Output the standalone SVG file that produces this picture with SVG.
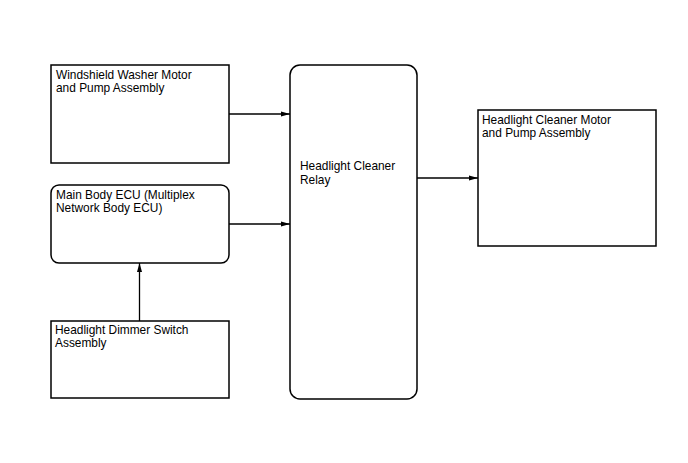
<svg xmlns="http://www.w3.org/2000/svg" width="688" height="463" viewBox="0 0 688 463">
<style>
.box{fill:#fff;stroke:#000;stroke-width:1.5}
.t{font-family:"Liberation Sans",Arial,sans-serif;font-size:11.9px;fill:#000}
.c{stroke:#000;stroke-width:1.3;fill:none;marker-end:url(#ah)}
</style>
<defs>
<marker id="ah" markerWidth="9" markerHeight="6" refX="9" refY="3" orient="auto" markerUnits="userSpaceOnUse">
<path d="M0,0.5 L9,3 L0,5.5 Z" fill="#000"/>
</marker>
</defs>
<rect width="688" height="463" fill="#fff"/>
<g id="washer">
<rect class="box" x="51" y="65" width="178" height="98"/>
<text class="t" x="56" y="79">Windshield Washer Motor</text>
<text class="t" x="56" y="92">and Pump Assembly</text>
</g>
<g id="ecu">
<rect class="box" x="51" y="185" width="178" height="78" rx="8"/>
<text class="t" x="56" y="199">Main Body ECU (Multiplex</text>
<text class="t" x="56" y="212">Network Body ECU)</text>
</g>
<g id="dimmer">
<rect class="box" x="51" y="321" width="178" height="77"/>
<text class="t" x="55" y="334">Headlight Dimmer Switch</text>
<text class="t" x="55" y="347">Assembly</text>
</g>
<g id="relay">
<rect class="box" x="290" y="65" width="127" height="334" rx="10"/>
<text class="t" x="300" y="170">Headlight Cleaner</text>
<text class="t" x="300" y="184">Relay</text>
</g>
<g id="cleaner">
<rect class="box" x="478" y="110" width="178" height="136"/>
<text class="t" x="482" y="124">Headlight Cleaner Motor</text>
<text class="t" x="482" y="137">and Pump Assembly</text>
</g>
<g id="connectors">
<line class="c" x1="229" y1="114" x2="290" y2="114"/>
<line class="c" x1="229" y1="224" x2="290" y2="224"/>
<line class="c" x1="139.5" y1="321" x2="139.5" y2="263"/>
<line class="c" x1="417" y1="178" x2="478" y2="178"/>
</g>
</svg>
